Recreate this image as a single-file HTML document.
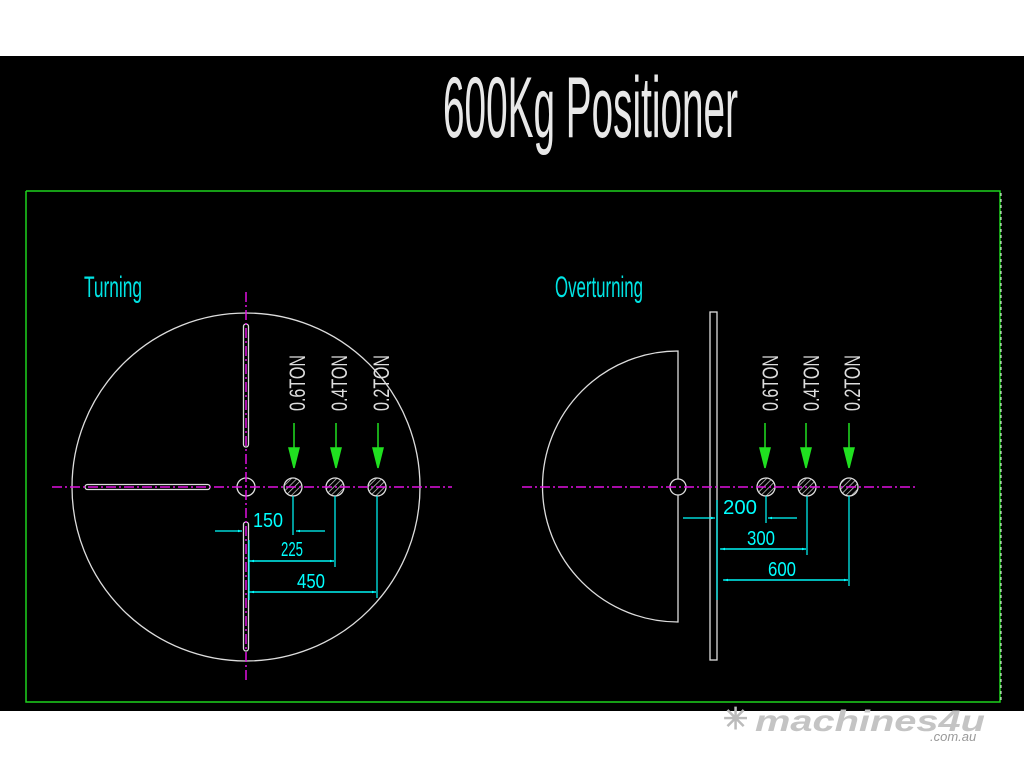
<!DOCTYPE html>
<html><head><meta charset="utf-8"><style>
html,body{margin:0;padding:0;background:#fff;width:1024px;height:768px;overflow:hidden}
svg{display:block}
text{font-family:"Liberation Sans",sans-serif}
</style></head><body>
<svg width="1024" height="768" viewBox="0 0 1024 768">
<defs>
<pattern id="h" width="4" height="4" patternUnits="userSpaceOnUse" patternTransform="rotate(45)"><line x1="0" y1="0" x2="0" y2="4" stroke="#ccc" stroke-width="1.5"/></pattern>
<marker id="ar" viewBox="0 0 10 10" refX="10" refY="5" markerWidth="8" markerHeight="4" orient="auto" markerUnits="userSpaceOnUse"><path d="M0,2 L10,5 L0,8z" fill="#0ff"/></marker>
</defs>
<rect x="0" y="56" width="1024" height="655" fill="#000"/>
<polyline points="26,191 1000,191 1000,702 26,702 26,191" fill="none" stroke="#1ed21e" stroke-width="1.5"/>
<line x1="1001" y1="193" x2="1001" y2="700" stroke="#fff" stroke-width="1" stroke-dasharray="3,3"/>
<!-- title -->
<text x="443" y="137" font-size="86" fill="#e8e8e8" textLength="295" lengthAdjust="spacingAndGlyphs">600Kg  Positioner</text>
<text x="84" y="297" font-size="30" fill="#00e5e5" textLength="58" lengthAdjust="spacingAndGlyphs">Turning</text>
<text x="555" y="297" font-size="30" fill="#00e5e5" textLength="88" lengthAdjust="spacingAndGlyphs">Overturning</text>

<!-- LEFT -->
<circle cx="246" cy="487" r="174" fill="none" stroke="#ddd" stroke-width="1.3"/>
<rect x="243.5" y="324" width="5" height="123" rx="2.5" fill="none" stroke="#ddd" stroke-width="1.3"/>
<rect x="243.5" y="522" width="5" height="129" rx="2.5" fill="none" stroke="#ddd" stroke-width="1.3"/>
<rect x="85" y="484.5" width="125" height="5" rx="2.5" fill="none" stroke="#ddd" stroke-width="1.3"/>
<circle cx="246" cy="487" r="9" fill="none" stroke="#ddd" stroke-width="1.3"/>
<line x1="246" y1="292" x2="246" y2="680" stroke="#e010e0" stroke-width="1.5" stroke-dasharray="10,3,2,3"/>

<!-- RIGHT -->
<path d="M678,351 A135.5,135.5 0 1 0 678,622 Z" fill="none" stroke="#ddd" stroke-width="1.3"/>
<circle cx="678" cy="487" r="8" fill="#000" stroke="#ddd" stroke-width="1.3"/>
<rect x="710" y="312" width="7" height="348" fill="none" stroke="#ddd" stroke-width="1.3"/>

<g stroke="#ddd" stroke-width="1.3">
<circle cx="293" cy="487" r="9" fill="url(#h)"/><circle cx="335" cy="487" r="9" fill="url(#h)"/><circle cx="377" cy="487" r="9" fill="url(#h)"/>
<circle cx="766" cy="487" r="9" fill="url(#h)"/><circle cx="807" cy="487" r="9" fill="url(#h)"/><circle cx="849" cy="487" r="9" fill="url(#h)"/>
</g>
<line x1="52" y1="487" x2="452" y2="487" stroke="#e010e0" stroke-width="1.5" stroke-dasharray="10,3,2,3"/>
<line x1="522" y1="487" x2="918" y2="487" stroke="#e010e0" stroke-width="1.5" stroke-dasharray="10,3,2,3"/>

<g fill="#20e020" stroke="#20e020" stroke-width="1.5">
<line x1="294" y1="423" x2="294" y2="450"/><path d="M289,448 L299,448 L294,468z"/>
<line x1="336" y1="423" x2="336" y2="450"/><path d="M331,448 L341,448 L336,468z"/>
<line x1="378" y1="423" x2="378" y2="450"/><path d="M373,448 L383,448 L378,468z"/>
<line x1="765" y1="423" x2="765" y2="450"/><path d="M760,448 L770,448 L765,468z"/>
<line x1="806" y1="423" x2="806" y2="450"/><path d="M801,448 L811,448 L806,468z"/>
<line x1="849" y1="423" x2="849" y2="450"/><path d="M844,448 L854,448 L849,468z"/>
</g>
<g fill="#ddd" font-size="22">
<text transform="translate(305,411) rotate(-90)" textLength="56" lengthAdjust="spacingAndGlyphs">0.6TON</text>
<text transform="translate(347,411) rotate(-90)" textLength="56" lengthAdjust="spacingAndGlyphs">0.4TON</text>
<text transform="translate(389,411) rotate(-90)" textLength="56" lengthAdjust="spacingAndGlyphs">0.2TON</text>
<text transform="translate(778,411) rotate(-90)" textLength="56" lengthAdjust="spacingAndGlyphs">0.6TON</text>
<text transform="translate(819,411) rotate(-90)" textLength="56" lengthAdjust="spacingAndGlyphs">0.4TON</text>
<text transform="translate(860,411) rotate(-90)" textLength="56" lengthAdjust="spacingAndGlyphs">0.2TON</text>
</g>

<g stroke="#0ff" stroke-width="1.2" fill="none">
<line x1="293" y1="496" x2="293" y2="535"/>
<line x1="335" y1="496" x2="335" y2="567"/>
<line x1="377" y1="496" x2="377" y2="598"/>
<line x1="249" y1="540" x2="249" y2="600"/>
<line x1="215" y1="531" x2="242" y2="531" marker-end="url(#ar)"/>
<line x1="325" y1="531" x2="296" y2="531" marker-end="url(#ar)"/>
<line x1="249" y1="561" x2="334" y2="561" marker-end="url(#ar)"/>
<line x1="334" y1="561" x2="250" y2="561" marker-end="url(#ar)"/>
<line x1="249" y1="592" x2="376" y2="592" marker-end="url(#ar)"/>
<line x1="376" y1="592" x2="250" y2="592" marker-end="url(#ar)"/>
</g>
<g fill="#0ff" font-size="20">
<text x="253" y="527" textLength="30" lengthAdjust="spacingAndGlyphs">150</text>
<text x="281" y="556" textLength="22" lengthAdjust="spacingAndGlyphs">225</text>
<text x="297" y="588" textLength="28" lengthAdjust="spacingAndGlyphs">450</text>
</g>
<g stroke="#0ff" stroke-width="1.2" fill="none">
<line x1="717" y1="500" x2="717" y2="600"/>
<line x1="766" y1="496" x2="766" y2="523"/>
<line x1="807" y1="496" x2="807" y2="555"/>
<line x1="849" y1="496" x2="849" y2="586"/>
<line x1="683" y1="518" x2="715" y2="518" marker-end="url(#ar)"/>
<line x1="797" y1="518" x2="768" y2="518" marker-end="url(#ar)"/>
<line x1="720" y1="549" x2="806" y2="549" marker-end="url(#ar)"/>
<line x1="806" y1="549" x2="721" y2="549" marker-end="url(#ar)"/>
<line x1="723" y1="580" x2="848" y2="580" marker-end="url(#ar)"/>
<line x1="848" y1="580" x2="724" y2="580" marker-end="url(#ar)"/>
</g>
<g fill="#0ff" font-size="20">
<text x="723" y="514" textLength="34" lengthAdjust="spacingAndGlyphs">200</text>
<text x="747" y="545" textLength="28" lengthAdjust="spacingAndGlyphs">300</text>
<text x="768" y="576" textLength="28" lengthAdjust="spacingAndGlyphs">600</text>
</g>

<text x="723" y="729" font-size="30" fill="#bbb" font-weight="bold">✳</text>
<text x="755" y="731" font-size="30" fill="#c4c4c4" font-weight="bold" font-style="italic" textLength="230" lengthAdjust="spacingAndGlyphs">machines4u</text>
<text x="930" y="741" font-size="13" fill="#999" font-style="italic">.com.au</text>
</svg>
</body></html>
